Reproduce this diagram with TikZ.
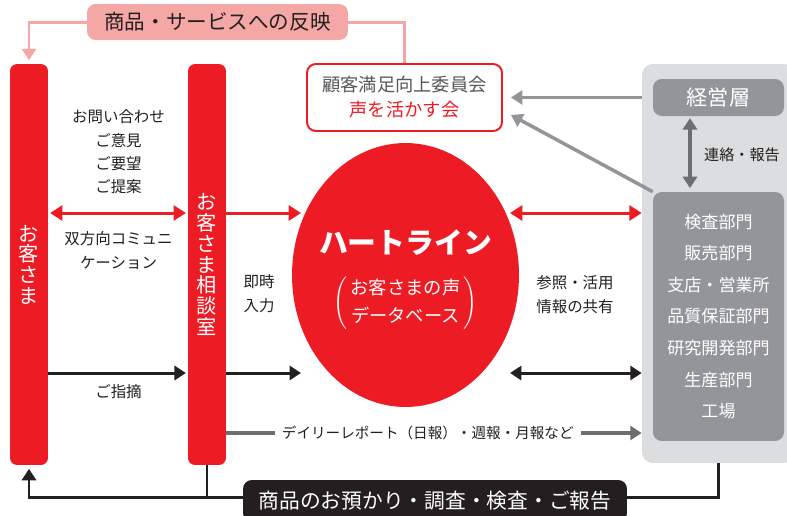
\documentclass[tikz,border=0pt]{standalone}
\usepackage{fontspec}
\setmainfont{Noto Sans CJK JP}
\usetikzlibrary{shapes.geometric,arrows.meta}
\definecolor{heartRed}{RGB}{237,28,36}
\definecolor{heartPink}{RGB}{244,167,164}
\definecolor{heartInk}{RGB}{35,31,32}
\definecolor{heartPanel}{RGB}{220,221,222}
\definecolor{heartGray}{RGB}{147,149,152}
\definecolor{heartDark}{RGB}{109,110,113}
\definecolor{heartText}{RGB}{89,87,87}

\begin{document}
\begin{tikzpicture}[x=0.02cm, y=-0.02cm]
            % Styles
            \tikzstyle{bar} = [rectangle, fill=heartRed, text=white, minimum width=0.76cm, minimum height=8.02cm, rounded corners=4pt, inner sep=0pt, align=center, font=\fontsize{11.5}{11.8}\selectfont]
            \tikzstyle{graybox} = [rectangle, fill=heartGray, text=white, minimum width=2.62cm, rounded corners=5pt, align=center]
            \tikzstyle{note} = [text=heartInk, align=center, font=\fontsize{8.8}{13.3}\selectfont]
            \tikzstyle{redarrow} = [-{Triangle[length=7pt, width=8.5pt]}, line width=1.7pt, heartRed]
            \tikzstyle{redboth} = [{Triangle[length=7pt, width=8.5pt]}-{Triangle[length=7pt, width=8.5pt]}, line width=1.7pt, heartRed]
            \tikzstyle{blackarrow} = [-{Triangle[length=6.5pt, width=8pt]}, line width=1.7pt, heartInk]
            \tikzstyle{blackboth} = [{Triangle[length=6.5pt, width=8pt]}-{Triangle[length=6.5pt, width=8pt]}, line width=1.7pt, heartInk]
            \tikzstyle{grayarrow} = [-{Triangle[length=6.5pt, width=8pt]}, line width=2pt, heartGray]
            \tikzstyle{darkarrow} = [-{Triangle[length=6.5pt, width=8pt]}, line width=1.8pt, heartDark]
            \tikzstyle{pinkline} = [line width=1.7pt, heartPink]

            \useasboundingbox (0,0) rectangle (787,515);

            % Rows and free ends
            \coordinate (rowTop) at (0,213);
            \coordinate (rowLow) at (0,373);
            \coordinate (rowDay) at (0,433);
            \coordinate (rowBack) at (0,497);
            \coordinate (dbWest) at (301,0);
            \coordinate (dbEast) at (510,0);
            \coordinate (updn) at (690,0);
            \coordinate (cmteIn) at (511,115);

            % Customer side
            \node[bar] (cust) at (29,264.5) {お\\客\\さ\\ま};
            \node[bar] (desk) at (207,264.5) {お\\客\\さ\\ま\\相\\談\\室};

            % Feedback banner and committee
            \node[rectangle, fill=heartPink, text=heartInk, minimum width=5.22cm, minimum height=0.72cm, rounded corners=5pt, font=\fontsize{11.7}{14}\selectfont] (reflect) at (217.5,22) {商品・サービスへの反映};
            \node[rectangle, draw=heartRed, line width=1.1pt, fill=white, minimum width=3.9cm, minimum height=1.34cm, rounded corners=5pt, align=center, font=\fontsize{10.4}{14.2}\selectfont] (cmte) at (404.5,97.5) {{\color{heartText}顧客満足向上委員会}\\{\color{heartRed}声を活かす会}};

            % Database
            \node[ellipse, fill=heartRed, minimum width=4.54cm, minimum height=5.28cm] (db) at (405.5,275) {};
            \node[text=white, font=\fontsize{16.4}{18}\selectfont\bfseries] (dbTitle) at (405.5,243) {ハートライン};
            \node[text=white, font=\fontsize{10.4}{15.9}\selectfont] (dbSub) at (405.5,303) {$\left(\begin{tabular}{@{\,}c@{\,}}お客さまの声\\データベース\end{tabular}\right)$};

            % Company side
            \node[rectangle, fill=heartPanel, minimum width=3.06cm, minimum height=7.98cm, rounded corners=6pt] (panel) at (718.5,263.5) {};
            \node[graybox, minimum height=0.74cm, font=\fontsize{12}{14}\selectfont] (mgmt) at (718.5,97.5) {経営層};
            \node[graybox, minimum height=4.98cm, font=\fontsize{9.7}{18}\selectfont] (dept) at (718.5,316.5) {検査部門\\販売部門\\支店・営業所\\品質保証部門\\研究開発部門\\生産部門\\工場};

            % Labels
            \node[note] (ask) at (118.5,152) {お問い合わせ\\ご意見\\ご要望\\ご提案};
            \node[note, font=\fontsize{8.8}{13.6}\selectfont] (twoway) at (118.5,250) {双方向コミュニ\\ケーション};
            \node[note] (point) at (118.5,392) {ご指摘};
            \node[note, font=\fontsize{8.8}{13.6}\selectfont] (input) at (259,294) {即時\\入力};
            \node[note, font=\fontsize{8.8}{13.6}\selectfont] (share) at (575,295) {参照・活用\\情報の共有};
            \node[note, anchor=west, font=\fontsize{8.6}{10}\selectfont] (contact) at (698,155) {連絡・報告};

            % Arrows
            \draw[pinkline, -{Triangle[length=6.5pt, width=8pt]}, shorten >=2pt] (reflect.west) -| (cust.north);
            \draw[pinkline] (reflect.east) -| (cmte.north);
            \draw[redboth, shorten <=1pt, shorten >=1pt] (cust.east |- rowTop) -- (desk.west |- rowTop);
            \draw[redarrow] (desk.east |- rowTop) -- (dbWest |- rowTop);
            \draw[redboth] (dbEast |- rowTop) -- (panel.west |- rowTop);
            \draw[blackarrow, shorten >=1pt] (cust.east |- rowLow) -- (desk.west |- rowLow);
            \draw[blackarrow] (desk.east |- rowLow) -- (dbWest |- rowLow);
            \draw[blackboth] (dbEast |- rowLow) -- (panel.west |- rowLow);
            \draw[darkarrow] (desk.east |- rowDay) -- (panel.west |- rowDay)
                node[pos=0.485, fill=white, text=heartInk, inner xsep=4pt, inner ysep=1pt, font=\fontsize{8.3}{10}\selectfont] {デイリーレポート（日報）・週報・月報など};
            \draw[grayarrow, shorten >=0.16cm] (mgmt.west -| panel.west) -- (cmte.east);
            \draw[grayarrow] (dept.north west) -- (cmteIn);
            \draw[darkarrow, {Triangle[length=6.5pt, width=8pt]}-{Triangle[length=6.5pt, width=8pt]}, shorten <=1pt, shorten >=2pt] (mgmt.south -| updn) -- (dept.north -| updn);

            % Return path
            \draw[line width=1.7pt, heartInk] (desk.south) -- (desk.south |- rowBack);
            \draw[blackarrow, shorten >=2pt] (panel.south) |- (cust.south |- rowBack) -- (cust.south);
            \node[rectangle, fill=heartInk, text=white, minimum width=7.68cm, minimum height=0.84cm, rounded corners=5pt, font=\fontsize{11.8}{14}\selectfont] (back) at (435,501) {商品のお預かり・調査・検査・ご報告};
\end{tikzpicture}
\end{document}
